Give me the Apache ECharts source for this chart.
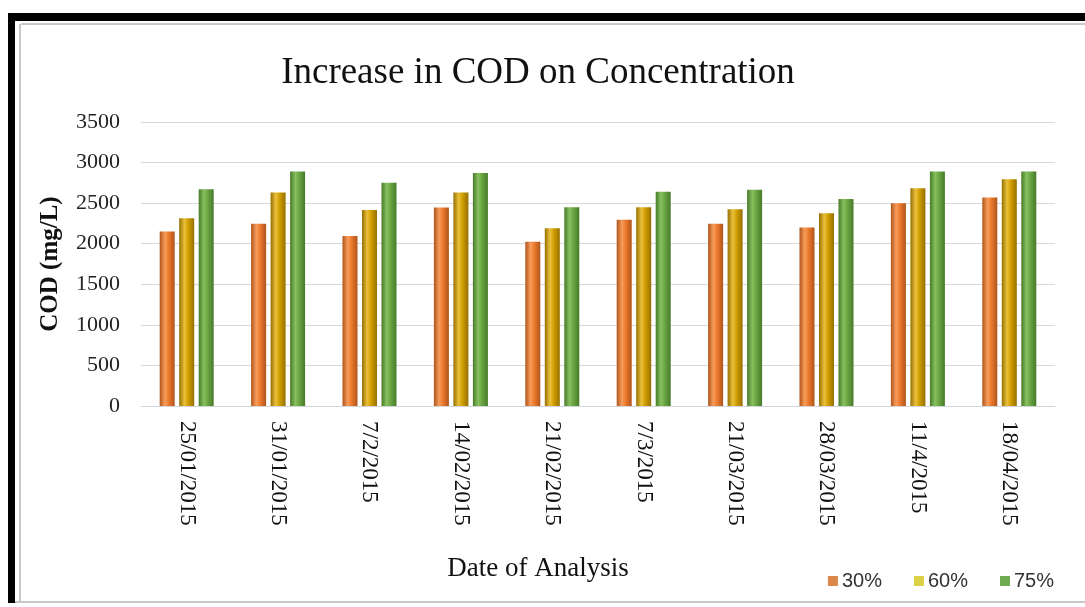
<!DOCTYPE html>
<html>
<head>
<meta charset="utf-8">
<script src="https://cdn.jsdelivr.net/npm/echarts@6/dist/echarts.min.js"></script>
<style>
html,body{margin:0;padding:0;background:#fff;}
#c{width:1085px;height:607px;}
</style>
</head>
<body>
<div id="c"></div>
<script>
const categories = ['25/01/2015','31/01/2015','7/2/2015','14/02/2015','21/02/2015','7/3/2015','21/03/2015','28/03/2015','11/4/2015','18/04/2015'];
const s30 = [2150, 2245, 2095, 2445, 2025, 2295, 2245, 2200, 2500, 2570];
const s60 = [2315, 2630, 2415, 2630, 2190, 2450, 2425, 2375, 2685, 2795];
const s75 = [2670, 2890, 2750, 2870, 2450, 2640, 2665, 2550, 2890, 2890];
const yTicks = [0, 500, 1000, 1500, 2000, 2500, 3000, 3500];
const seriesNames = ['30%', '60%', '75%'];

function cyl(dark, mid, light) {
  return new echarts.graphic.LinearGradient(0, 0, 1, 0, [
    {offset: 0, color: dark},
    {offset: 0.35, color: light},
    {offset: 0.6, color: mid},
    {offset: 1, color: dark}
  ]);
}
const colors = [
  cyl('#B0541A', '#EC7A2C', '#F79C5C'),
  cyl('#957000', '#D09E00', '#EBC03C'),
  cyl('#477A2A', '#69A642', '#88C05F')
];
const legendColors = ['#DD8848', '#DCD044', '#6FAA50'];

const chart = echarts.init(document.getElementById('c'));
const serif = 'Liberation Serif';
chart.setOption({
  backgroundColor: '#fff',
  animation: false,
  title: {
    text: 'Increase in COD on Concentration',
    left: 533, top: 50, textAlign: 'center',
    textStyle: {fontFamily: serif, fontSize: 37, fontWeight: 'normal', color: '#111'}
  },
  legend: {
    data: seriesNames.map((n, i) => ({name: n, itemStyle: {color: legendColors[i]}})),
    right: 26, top: 566, itemWidth: 10, itemHeight: 10, itemGap: 32,
    icon: 'rect',
    textStyle: {fontFamily: 'Liberation Sans', fontSize: 20, color: '#333', padding: [0,0,0,-1]}
  },
  grid: {left: 141, right: 30, top: 122, bottom: 201},
  xAxis: {
    type: 'category', data: categories,
    name: 'Date of Analysis', nameLocation: 'middle', nameGap: 149,
    nameTextStyle: {fontFamily: serif, fontSize: 27, color: '#111', padding: [0, 120, 0, 0]},
    axisLine: {lineStyle: {color: '#D0D6DC'}},
    axisTick: {show: false},
    axisLabel: {rotate: -90, fontFamily: serif, fontSize: 23, color: '#111', margin: 15}
  },
  yAxis: {
    type: 'value', min: 0, max: 3500, interval: 500,
    name: 'COD (mg/L)', nameLocation: 'middle', nameGap: 78, nameRotate: 90,
    nameTextStyle: {fontFamily: serif, fontSize: 25, color: '#111', fontWeight: 'bold'},
    axisLine: {show: false}, axisTick: {show: false},
    axisLabel: {fontFamily: serif, fontSize: 22, color: '#222', margin: 21,
      formatter: v => yTicks.includes(v) ? String(v) : ''},
    splitLine: {lineStyle: {color: '#D9D9D9'}}
  },
  series: [s30, s60, s75].map((d, i) => ({
    name: seriesNames[i], type: 'bar', data: d,
    barWidth: 15, barGap: '30%',
    itemStyle: {color: colors[i]}
  })),
  graphic: [
    {type: 'rect', shape: {x: 8, y: 13, width: 1077, height: 8}, style: {fill: '#000'}, silent: true},
    {type: 'rect', shape: {x: 8, y: 13, width: 7, height: 590}, style: {fill: '#000'}, silent: true},
    {type: 'line', shape: {x1: 21, y1: 24, x2: 1085, y2: 24}, style: {stroke: '#C8C8C8', lineWidth: 2}, silent: true},
    {type: 'line', shape: {x1: 20, y1: 24, x2: 20, y2: 602}, style: {stroke: '#C8C8C8', lineWidth: 2}, silent: true},
    {type: 'line', shape: {x1: 15, y1: 602, x2: 1085, y2: 602}, style: {stroke: '#C8C8C8', lineWidth: 2}, silent: true}
  ]
});
</script>
</body>
</html>
